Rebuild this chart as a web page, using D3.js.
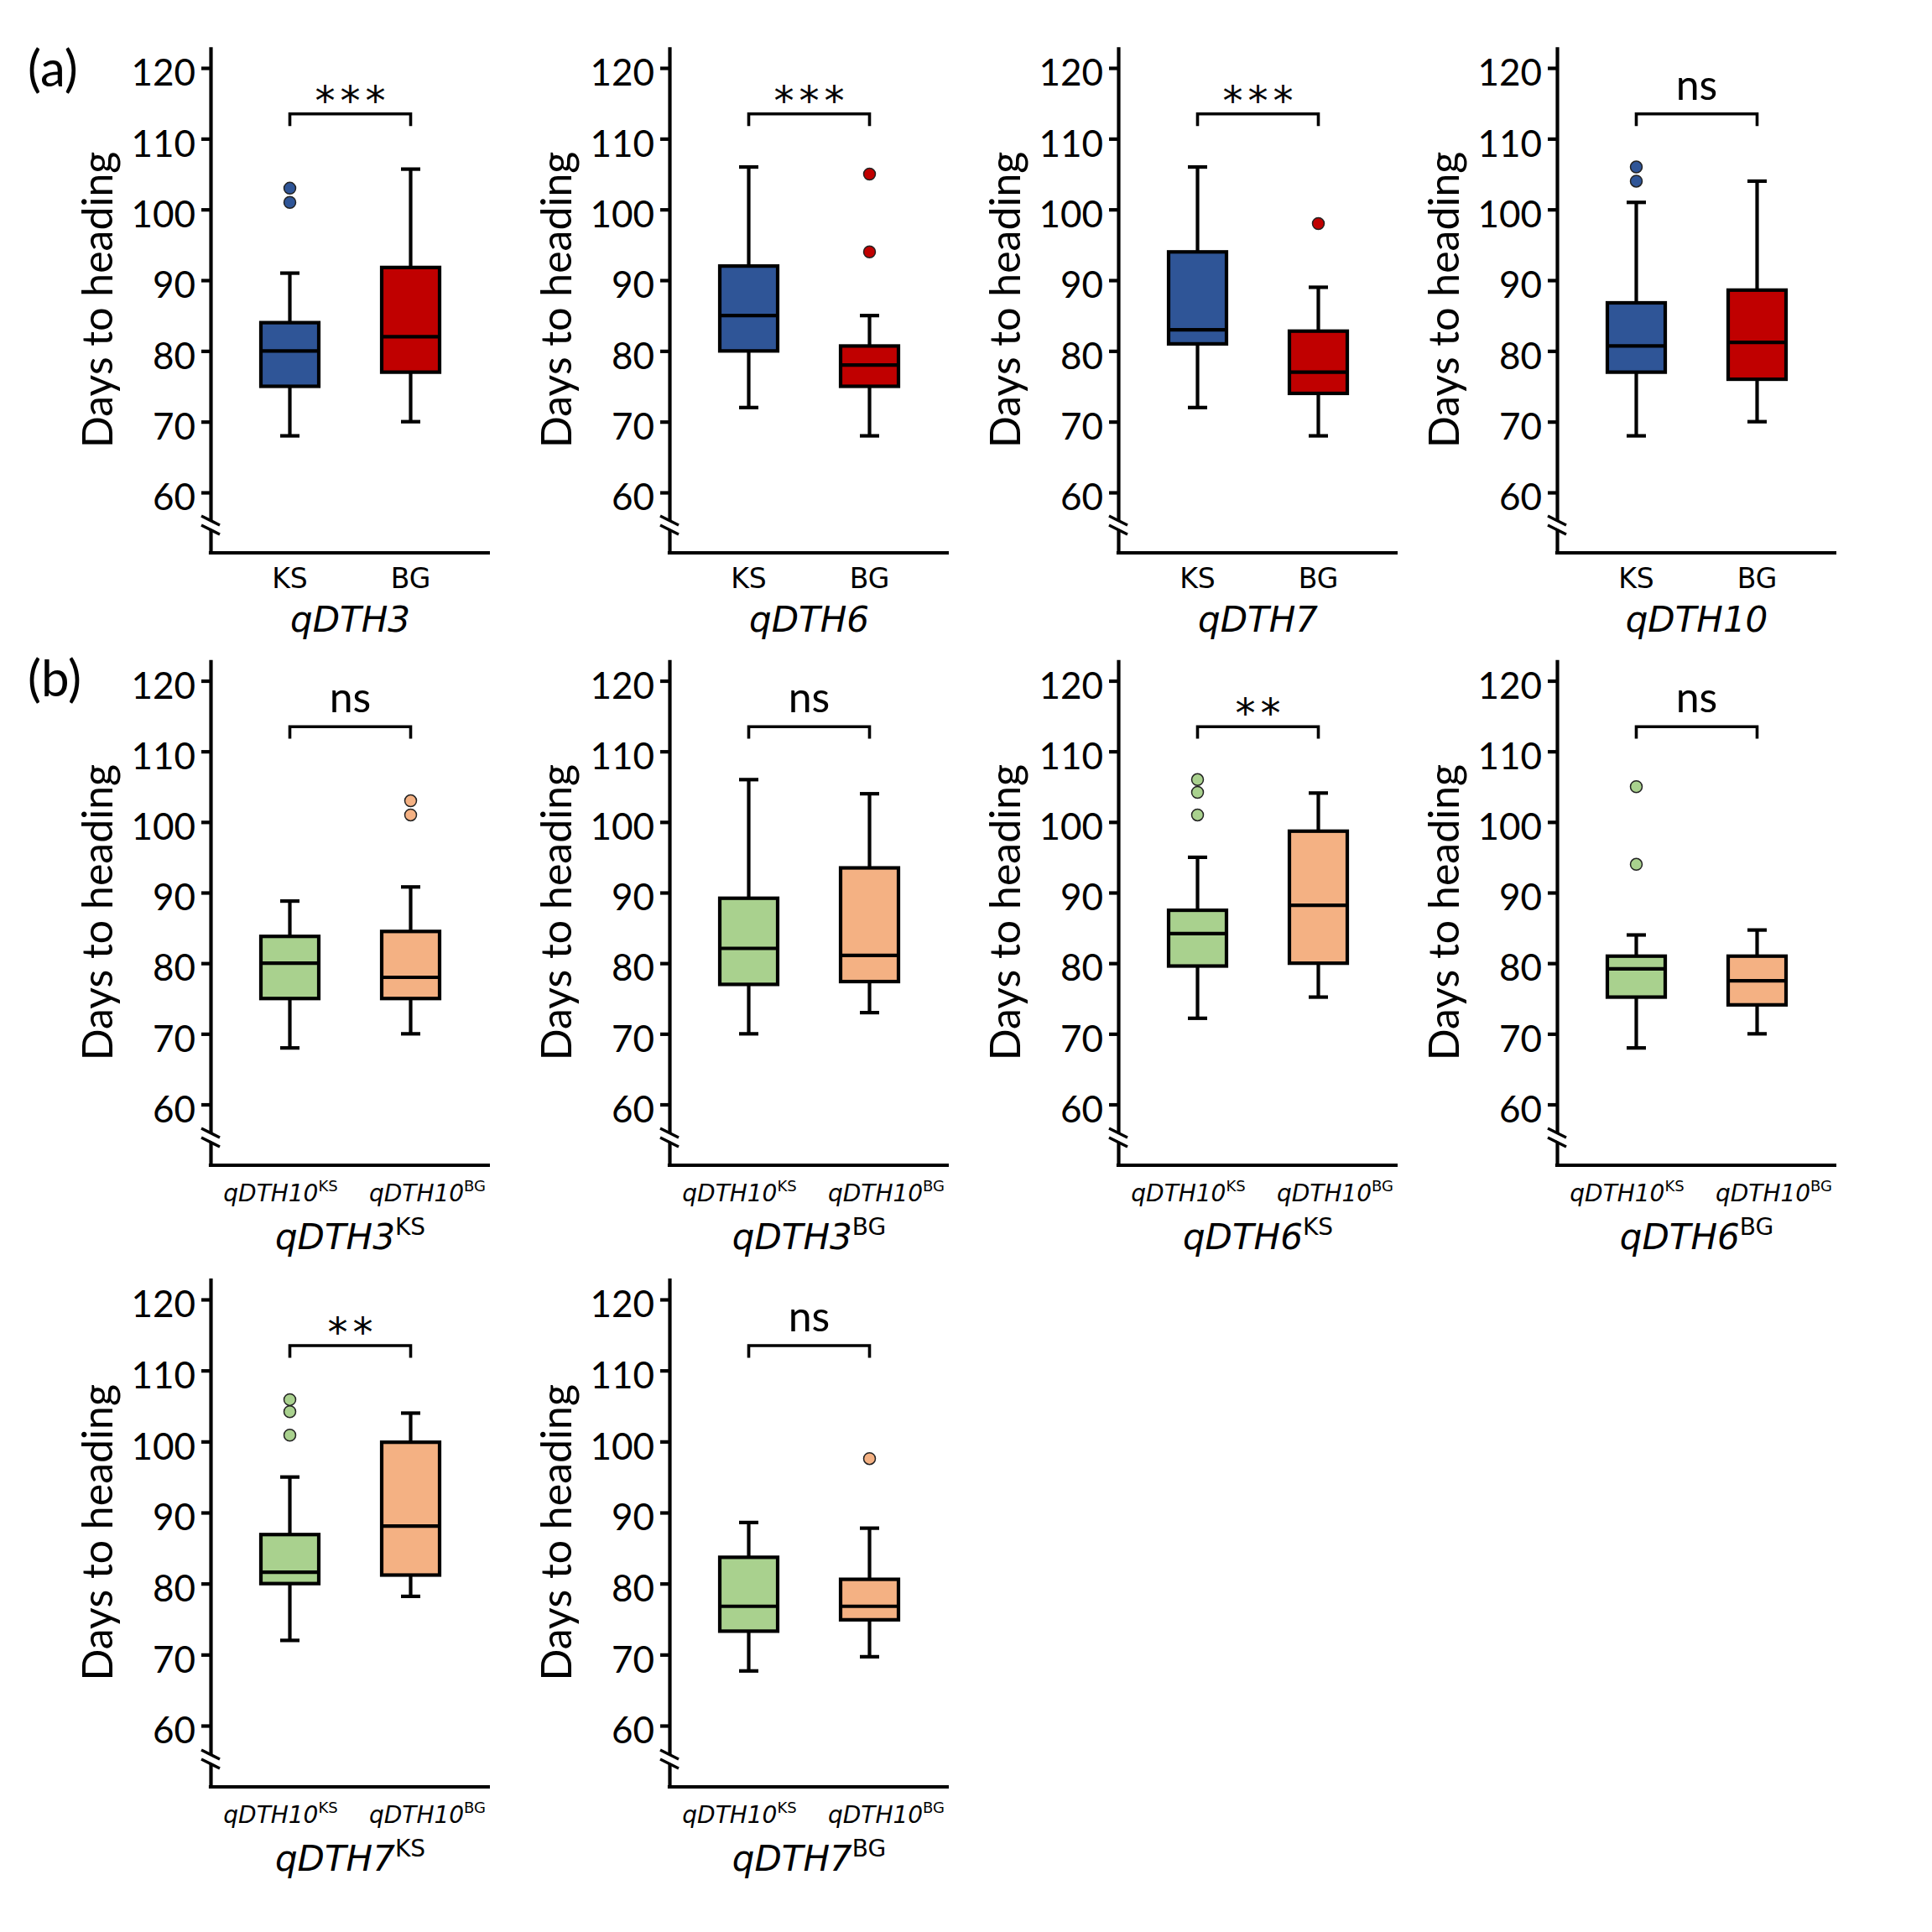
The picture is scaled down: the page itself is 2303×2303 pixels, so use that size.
<!DOCTYPE html>
<html>
<head>
<meta charset="utf-8">
<script src="https://cdn.jsdelivr.net/npm/d3@7"></script>
<style>
  body { margin: 0; background: #fff; }
  svg { display: block; }
</style>
</head>
<body>
<div id="chart"></div>
<script>
// panel titles (italic) and their superscripts
const panelTitles = ["qDTH3", "qDTH6", "qDTH7", "qDTH10", "qDTH3", "qDTH3", "qDTH6", "qDTH6", "qDTH7", "qDTH7"];
const panelSups   = ["", "", "", "", "KS", "BG", "KS", "BG", "KS", "BG"];
const signif      = ["***", "***", "***", "ns", "ns", "ns", "**", "ns", "**", "ns"];

// x categories
const catsA = ["KS", "BG"];
const catsB = ["KS", "BG"];   // shown as qDTH10^KS / qDTH10^BG

// y ticks
const yTicks = [60, 70, 80, 90, 100, 110, 120];

// box stats [low whisker, Q1, median, Q3, high whisker]
const box1 = [
  [68, 75, 80, 84, 91],
  [72, 80, 85, 92, 106],
  [72, 81, 83, 94, 106],
  [68, 77, 80.7, 86.8, 101],
  [68, 75, 80, 83.8, 88.8],
  [70, 77, 82.1, 89.2, 106],
  [72.2, 79.6, 84.2, 87.5, 95],
  [68, 75.2, 79.2, 81, 84],
  [72, 80, 81.6, 86.9, 95],
  [67.7, 73.3, 76.8, 83.7, 88.6]
];
const box2 = [
  [70, 77, 82, 91.8, 105.7],
  [68, 75, 78, 80.7, 85],
  [68, 74, 77, 82.8, 89],
  [70, 76, 81.2, 88.6, 104],
  [70, 75, 78, 84.5, 90.8],
  [73, 77.4, 81.1, 93.5, 104],
  [75.2, 80, 88.2, 98.7, 104.1],
  [70, 74.1, 77.5, 81, 84.7],
  [78.2, 81.2, 88.1, 99.9, 104],
  [69.7, 74.9, 76.8, 80.6, 87.8]
];
const outliers1 = [[103, 101], [], [], [106, 104], [], [], [106, 104.2, 101], [105, 94], [105.9, 104.2, 100.9], []];
const outliers2 = [[], [105, 94], [98], [], [103, 101], [], [], [], [], [97.6]];

const colorsA = ["#2F5597", "#C00000"];
const colorsB = ["#A9D18E", "#F4B183"];

// layout
const colX = [251, 798, 1333, 1856];
const rowY120 = [81, 811.5, 1549];
const rowY60 = [587, 1316.5, 2057];
const rowAxisY = [659, 1389, 2130];
const axisLen = 333;
const boxW = 69, capW = 23, lw = 4.2;

const svg = d3.select("#chart").append("svg")
  .attr("width", 2303)
  .attr("height", 2303)
  .style("background", "#fff");

// panel letters
svg.append("text").attr("x", 33).attr("y", 103)
  .style("font-family", "Lato").style("font-size", "60px").text("(a)");
svg.append("text").attr("x", 33).attr("y", 830)
  .style("font-family", "Lato").style("font-size", "60px").text("(b)");

panelTitles.forEach((title, i) => {
  const row = i < 4 ? 0 : (i < 8 ? 1 : 2);
  const col = i < 4 ? i : (i - 4) % 4;
  const ax = colX[col];
  const axisY = rowAxisY[row];

  const y = d3.scaleLinear().domain([60, 120]).range([rowY60[row], rowY120[row]]);
  const cats = row === 0 ? catsA : catsB;
  const x = d3.scalePoint().domain(cats).range([94.5, 238.5]);
  const colors = row === 0 ? colorsA : colorsB;

  const g = svg.append("g").attr("transform", `translate(${ax},0)`);

  // y axis (domain extended down to the x axis)
  const yAxisScale = y.copy().domain([y.invert(axisY), 123]).range([axisY, y(123)]);
  const yAxis = g.append("g")
    .call(d3.axisLeft(yAxisScale).tickValues(yTicks).tickSize(11).tickSizeOuter(0).tickPadding(7));
  yAxis.select(".domain").attr("stroke", "#000").attr("stroke-width", lw);
  yAxis.selectAll(".tick line").attr("stroke", "#000").attr("stroke-width", lw);
  yAxis.selectAll(".tick text")
    .attr("dy", "0.47em")
    .style("font-family", "Lato")
    .style("font-size", "44px")
    .attr("fill", "#000");

  // axis break
  const yb = axisY - 38;
  g.append("path")
    .attr("d", `M-10,${yb - 5}L10,${yb + 5}L10,${yb + 14}L-10,${yb + 4}Z`)
    .attr("fill", "#fff");
  [0, 11].forEach(off => {
    g.append("line")
      .attr("x1", -11).attr("y1", yb - 6 + off)
      .attr("x2", 11).attr("y2", yb + 5 + off)
      .attr("stroke", "#000").attr("stroke-width", 3.4);
  });

  // x axis line
  g.append("line")
    .attr("x1", -lw / 2).attr("x2", axisLen)
    .attr("y1", axisY).attr("y2", axisY)
    .attr("stroke", "#000").attr("stroke-width", lw);

  // y title
  g.append("text")
    .attr("transform", `translate(-117,${(y(123) + axisY) / 2}) rotate(-90)`)
    .attr("text-anchor", "middle")
    .style("font-family", "Lato")
    .style("font-size", "50px")
    .text("Days to heading");

  // boxes
  const stats = [box1[i], box2[i]];
  const outs = [outliers1[i], outliers2[i]];
  cats.forEach((c, k) => {
    const cx = x(c);
    const s = stats[k];
    // whiskers
    g.append("line").attr("x1", cx).attr("x2", cx).attr("y1", y(s[0])).attr("y2", y(s[4]))
      .attr("stroke", "#000").attr("stroke-width", lw);
    [s[0], s[4]].forEach(v => {
      g.append("line").attr("x1", cx - capW / 2).attr("x2", cx + capW / 2)
        .attr("y1", y(v)).attr("y2", y(v))
        .attr("stroke", "#000").attr("stroke-width", lw);
    });
    g.append("rect")
      .attr("x", cx - boxW / 2).attr("width", boxW)
      .attr("y", y(s[3])).attr("height", y(s[1]) - y(s[3]))
      .attr("fill", colors[k]).attr("stroke", "#000").attr("stroke-width", lw);
    g.append("line").attr("x1", cx - boxW / 2).attr("x2", cx + boxW / 2)
      .attr("y1", y(s[2])).attr("y2", y(s[2]))
      .attr("stroke", "#000").attr("stroke-width", lw);
    g.selectAll(null).data(outs[k]).enter().append("circle")
      .attr("cx", cx).attr("cy", d => y(d)).attr("r", 7)
      .attr("fill", colors[k]).attr("stroke", "#222").attr("stroke-width", 1.5);

    // category labels
    if (row === 0) {
      g.append("text").attr("x", cx).attr("y", axisY + 42)
        .attr("text-anchor", "middle")
        .style("font-family", "DejaVu Sans").style("font-size", "33px")
        .text(c);
    } else {
      const t = g.append("text").attr("x", cx + (k === 0 ? -11 : 20)).attr("y", axisY + 43)
        .attr("text-anchor", "middle")
        .style("font-family", "DejaVu Sans");
      t.append("tspan").style("font-style", "italic").style("font-size", "28px").text("qDTH10");
      t.append("tspan").attr("dy", -12).style("font-size", "18px").text(c);
    }
  });

  // significance bracket
  const bx1 = x(cats[0]), bx2 = x(cats[1]);
  const byTop = y(113.5), byEnd = y(111.8);
  g.append("path")
    .attr("d", `M${bx1},${byEnd}L${bx1},${byTop}L${bx2},${byTop}L${bx2},${byEnd}`)
    .attr("fill", "none").attr("stroke", "#000").attr("stroke-width", 3.6);
  const mid = (bx1 + bx2) / 2;
  if (signif[i] === "ns") {
    g.append("text").attr("x", mid).attr("y", byTop - 17)
      .attr("text-anchor", "middle")
      .style("font-family", "Lato").style("font-size", "50px")
      .text("ns");
  } else {
    g.append("text").attr("x", mid + 3).attr("y", byTop + 1)
      .attr("text-anchor", "middle")
      .style("font-family", "DejaVu Sans").style("font-size", "48px")
      .style("letter-spacing", "6px")
      .text(signif[i]);
  }

  // panel title
  const tt = g.append("text").attr("x", mid).attr("y", axisY + (row === 0 ? 94 : 100))
    .attr("text-anchor", "middle")
    .style("font-family", "DejaVu Sans");
  tt.append("tspan").style("font-style", "italic").style("font-size", "42px").text(title);
  if (panelSups[i]) {
    tt.append("tspan").attr("dy", -17).style("font-size", "28px").text(panelSups[i]);
  }
});
</script>
</body>
</html>
